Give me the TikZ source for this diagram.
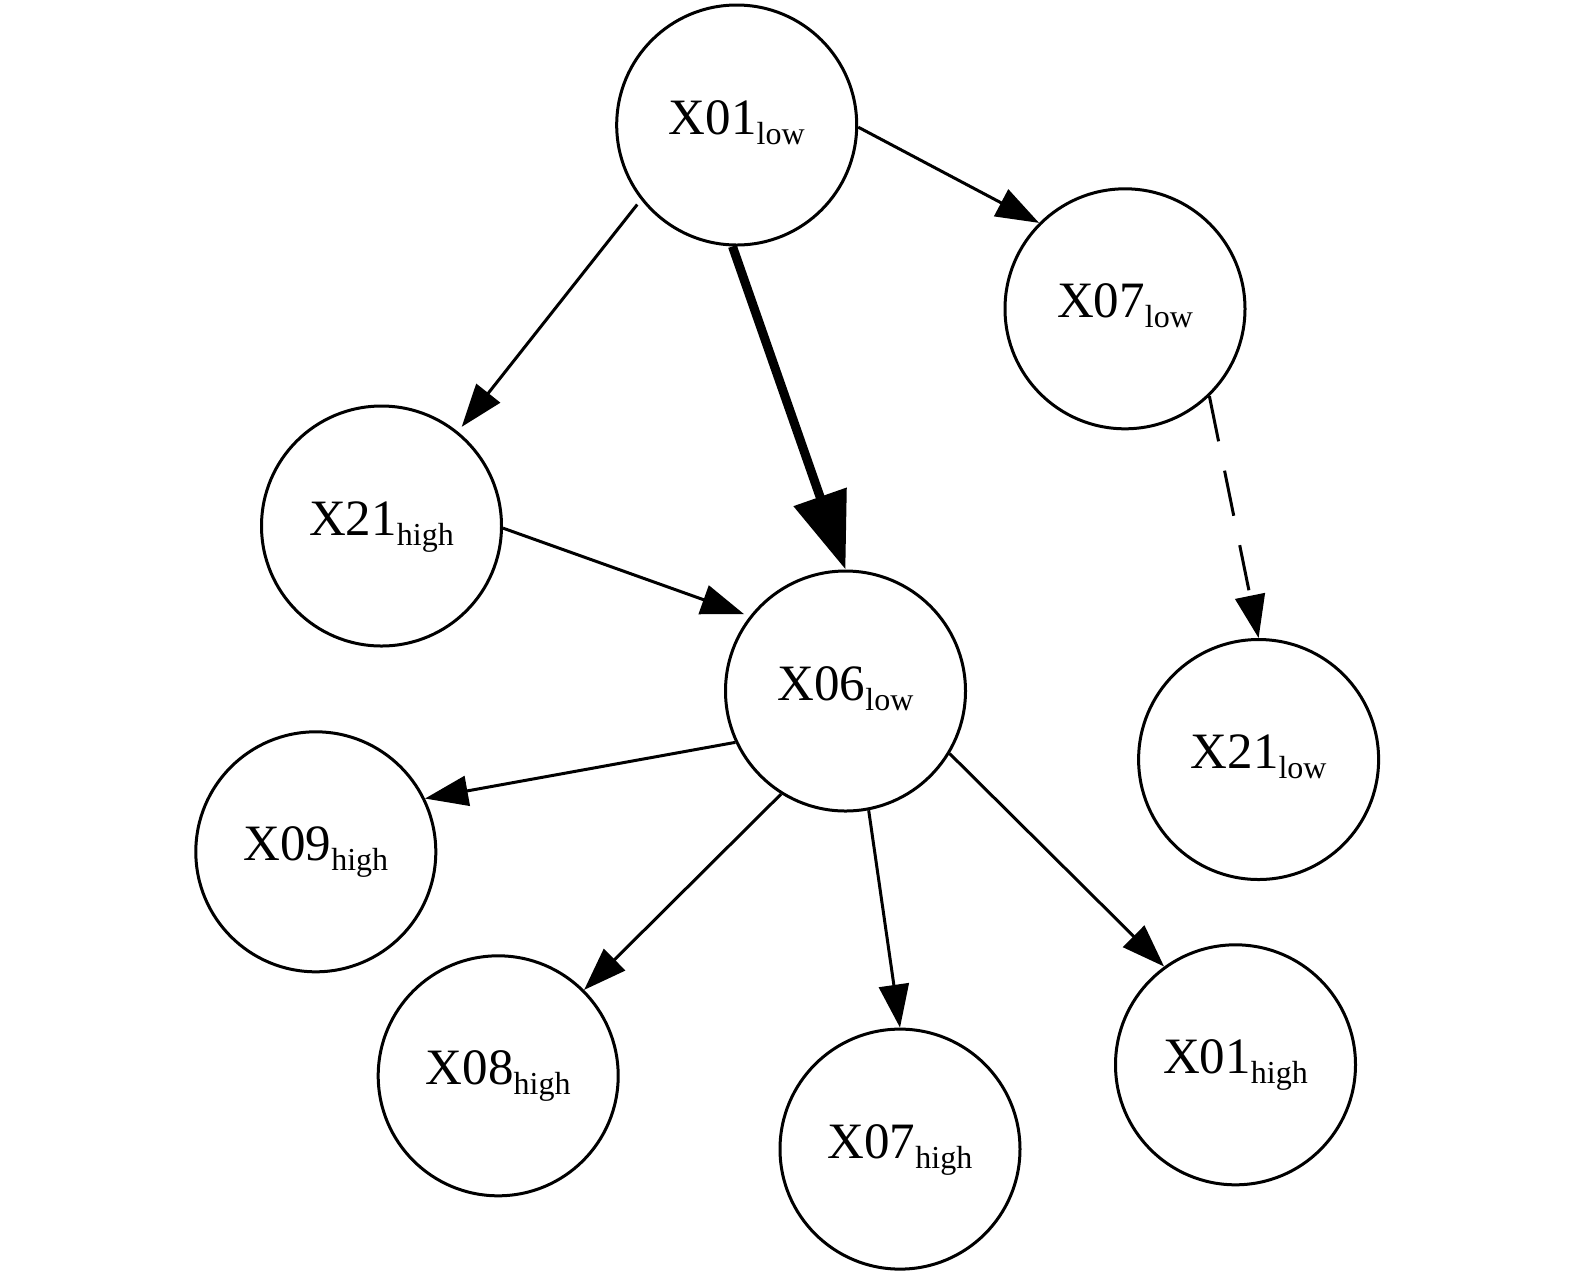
\documentclass[tikz,border=0pt]{standalone}
\usepackage{fontspec}
\setmainfont{Liberation Serif}
\usetikzlibrary{arrows.meta}

\newcommand{\lvl}[1]{\raisebox{-5pt}{\fontsize{16pt}{16pt}\selectfont #1}}

\begin{document}
\begin{tikzpicture}[x=0.5pt,y=-0.5pt,
        state/.style={circle,draw,line width=1.5pt,minimum size=120pt,inner sep=0pt,
            font=\fontsize{25.5pt}{30pt}\selectfont,text height=17pt,text depth=8pt},
        link/.style={line width=1.5pt,-{Triangle[length=21.5pt,width=15pt]}},
        strong/.style={line width=4.5pt,-{Triangle[length=38.5pt,width=27pt]}},
        weak/.style={link,dash pattern=on 23pt off 15pt}]
        \useasboundingbox (0,0) rectangle (1575,1276);

        \coordinate (A) at (736.7,125);
        \coordinate (B) at (1125,308.8);
        \coordinate (C) at (381.5,526);
        \coordinate (D) at (845.5,691);
        \coordinate (E) at (1258.6,759.5);
        \coordinate (F) at (315.8,851.8);
        \coordinate (G) at (498.2,1075.8);
        \coordinate (H) at (900,1149.1);
        \coordinate (I) at (1235.5,1064.8);

        \node[state] (x01l) at (A) {X01\lvl{low}};
        \node[state] (x07l) at (B) {X07\lvl{low}};
        \node[state] (x21h) at (C) {X21\lvl{high}};
        \node[state] (x06l) at (D) {X06\lvl{low}};
        \node[state] (x21l) at (E) {X21\lvl{low}};
        \node[state] (x09h) at (F) {X09\lvl{high}};
        \node[state] (x08h) at (G) {X08\lvl{high}};
        \node[state] (x07h) at (H) {X07\lvl{high}};
        \node[state] (x01h) at (I) {X01\lvl{high}};

        \draw[link,shorten <=3pt,shorten >=3pt] (x01l.218) -- (x21h.51);
        \draw[strong] (x01l.268) -- (x06l.90);
        \draw[link] (x01l.359) -- (x07l.135);
        \draw[weak] (x07l.314) -- (x21l.90);
        \draw[link,shorten >=3pt] (x21h.359) -- (x06l.142);
        \draw[link] (x06l.205) -- (x09h.26);
        \draw[link] (x06l.238) -- (x08h.45);
        \draw[link] (x06l.281) -- (x07h.90);
        \draw[link] (x06l.329) -- (x01h.126);
    \end{tikzpicture}
\end{document}
